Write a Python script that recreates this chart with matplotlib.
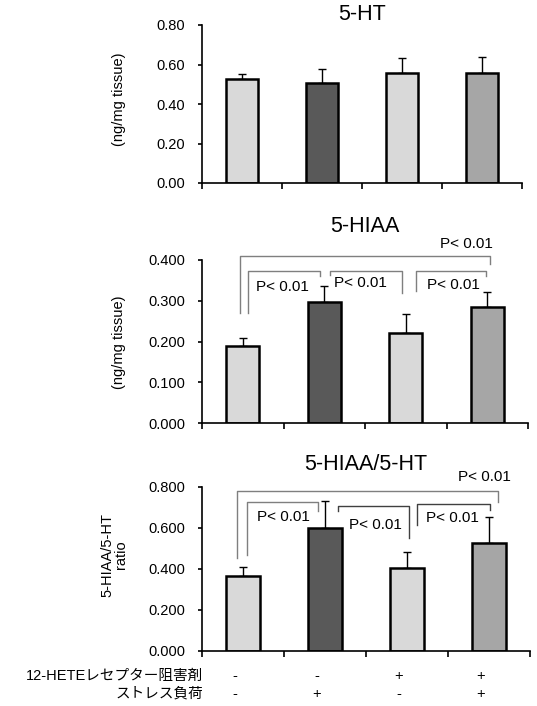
import matplotlib
matplotlib.use('Agg')
import matplotlib.pyplot as plt
import matplotlib.transforms as mtransforms

plt.rcParams['font.family'] = ['Liberation Sans', 'Noto Sans CJK JP', 'DejaVu Sans']

################################################################################
# data
groups = ['ctrl', 'stress', 'blocker', 'blocker+stress']
bar_colors = ['#d9d9d9', '#595959', '#d9d9d9', '#a6a6a6']

ht_mean = [0.527, 0.505, 0.555, 0.555]
ht_err = [0.025, 0.071, 0.076, 0.085]

hiaa_mean = [0.190, 0.296, 0.221, 0.284]
hiaa_err = [0.020, 0.041, 0.047, 0.037]

ratio_mean = [0.364, 0.597, 0.402, 0.524]
ratio_err = [0.046, 0.135, 0.081, 0.130]

p_label = 'P< 0.01'
blocker_signs = ['-', '-', '+', '+']
stress_signs = ['-', '+', '-', '+']

################################################################################
W, H = 537, 706
fig = plt.figure(figsize=(W / 100, H / 100), dpi=100)
TICK_FS = 10.5
P_FS = 11
TITLE_FS = 15.5
LAB_FS = 10.5


def px_axes(x0, x1, ytop, ybot):
    return fig.add_axes([x0 / W, 1 - ybot / H, (x1 - x0) / W, (ybot - ytop) / H])


def draw_panel(ax, mean, err, ymax, yticks, fmt, title, pad):
    x = list(range(len(mean)))
    ax.bar(x, mean, width=0.41, color=bar_colors, edgecolor='black',
           linewidth=1.8, zorder=2)
    ax.errorbar(x, mean, yerr=[[0] * len(err), err], fmt='none',
                ecolor='black', elinewidth=1.0, capsize=3, capthick=1.0,
                zorder=1)
    ax.set_xlim(-0.5, 3.5)
    ax.set_ylim(0, ymax)
    ax.set_yticks(yticks)
    ax.set_yticklabels([fmt % v for v in yticks], fontsize=TICK_FS)
    ax.set_xticks([-0.5, 0.5, 1.5, 2.5, 3.5])
    ax.set_xticklabels([])
    ax.tick_params(axis='y', direction='out', length=3, width=1.2, pad=9)
    ax.tick_params(axis='x', direction='out', length=4, width=1.2)
    for s in ('top', 'right'):
        ax.spines[s].set_visible(False)
    for s in ('left', 'bottom'):
        ax.spines[s].set_linewidth(1.2)
    ax.set_title(title, fontsize=TITLE_FS, pad=pad)
    return ax


def bracket(ax, xl, xr, ytop, yl, yr, color='#7f7f7f'):
    ax.plot([xl, xl, xr, xr], [yl, ytop, ytop, yr], color=color, lw=1.0,
            clip_on=False, zorder=3)


def ptext(ax, x, y):
    ax.text(x, y, p_label, fontsize=P_FS, ha='center', va='center')


# ---------------------------------------------------------------- 5-HT
ax1 = px_axes(202, 522, 25, 183)
draw_panel(ax1, ht_mean, ht_err, 0.8, [0.0, 0.2, 0.4, 0.6, 0.8], '%.2f',
           '5-HT', -3)
fig.text(119 / W, 1 - 99 / H, '(ng/mg tissue)', rotation=90, fontsize=LAB_FS,
         ha='center', va='center')

# ---------------------------------------------------------------- 5-HIAA
ax2 = px_axes(202, 528, 260, 423.3)
draw_panel(ax2, hiaa_mean, hiaa_err, 0.4, [0.0, 0.1, 0.2, 0.3, 0.4], '%.3f',
           '5-HIAA', 20)
fig.text(119 / W, 1 - 342 / H, '(ng/mg tissue)', rotation=90, fontsize=LAB_FS,
         ha='center', va='center')
bracket(ax2, -0.03, 3.03, 0.409, 0.271, 0.391)
bracket(ax2, 0.06, 0.95, 0.372, 0.271, 0.360)
bracket(ax2, 1.07, 1.95, 0.372, 0.364, 0.320)
bracket(ax2, 2.12, 2.99, 0.372, 0.323, 0.360)
ptext(ax2, 2.75, 0.440)
ptext(ax2, 0.49, 0.335)
ptext(ax2, 1.44, 0.343)
ptext(ax2, 2.58, 0.338)

# ---------------------------------------------------------------- ratio
ax3 = px_axes(202, 530, 486.7, 650.7)
draw_panel(ax3, ratio_mean, ratio_err, 0.8, [0.0, 0.2, 0.4, 0.6, 0.8], '%.3f',
           '5-HIAA/5-HT', 12)
fig.text(114 / W, 1 - 555 / H, '5-HIAA/5-HT\nratio', rotation=90,
         fontsize=LAB_FS, ha='center', va='center', linespacing=1.0)
bracket(ax3, -0.07, 3.11, 0.780, 0.451, 0.727)
bracket(ax3, 0.045, 0.91, 0.724, 0.467, 0.683)
bracket(ax3, 1.16, 2.02, 0.706, 0.683, 0.548, color='#404040')
bracket(ax3, 2.12, 3.01, 0.716, 0.613, 0.686, color='#404040')
ptext(ax3, 2.95, 0.849)
ptext(ax3, 0.49, 0.654)
ptext(ax3, 1.61, 0.613)
ptext(ax3, 2.55, 0.646)

# ---------------------------------------------------------------- row labels
fig.text(203 / W, 1 - 676 / H, '12-HETEレセプター阻害剤', fontsize=LAB_FS,
         ha='right', va='center')
fig.text(203 / W, 1 - 694 / H, 'ストレス負荷', fontsize=LAB_FS,
         ha='right', va='center')
trans = mtransforms.blended_transform_factory(ax3.transData, fig.transFigure)
for i, (b, s) in enumerate(zip(blocker_signs, stress_signs)):
    fig.text(i - 0.1, 1 - 676 / H, b, fontsize=LAB_FS, ha='center',
             va='center', transform=trans)
    fig.text(i - 0.1, 1 - 694 / H, s, fontsize=LAB_FS, ha='center',
             va='center', transform=trans)

fig.savefig('out.png', dpi=100)
